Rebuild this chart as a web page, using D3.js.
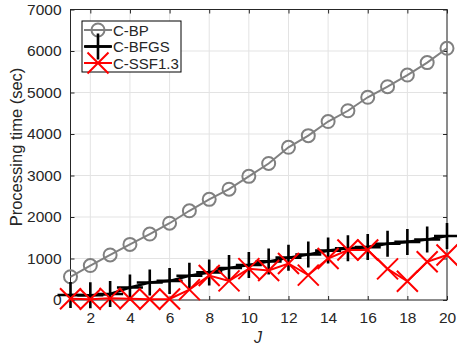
<!DOCTYPE html>
<html>
<head>
<meta charset="utf-8">
<script src="https://cdn.jsdelivr.net/npm/d3@7"></script>
<style>
  body { margin: 0; background: #fff; }
  svg text { font-family: "Liberation Sans", Arial, Helvetica, sans-serif; fill: #262626; }
</style>
</head>
<body>
<div id="chart"></div>
<script>
const WIDTH = 457;
const HEIGHT = 350;

// processing time (sec) per J
const J = d3.range(1, 21);
const bp = [560, 830, 1085, 1340, 1590, 1850, 2150, 2425, 2670, 2980,
  3290, 3680, 3960, 4300, 4560, 4885, 5140, 5420, 5720, 6065];
const bfgs = [120, 115, 145, 300, 420, 460, 585, 665, 770, 843,
  930, 1020, 1095, 1190, 1245, 1275, 1355, 1400, 1458, 1542];
const ssf = [30, 20, 40, 30, 20, 25, 250, 590, 460, 755,
  710, 880, 600, 1000, 1205, 1205, 750, 450, 920, 1085];

const xTicks = [2, 4, 6, 8, 10, 12, 14, 16, 18, 20];
const yTicks = [0, 1000, 2000, 3000, 4000, 5000, 6000, 7000];

const series = [
  { name: "C-BP", values: bp, color: "#808080", marker: "circle" },
  { name: "C-BFGS", values: bfgs, color: "#000000", marker: "plus" },
  { name: "C-SSF1.3", values: ssf, color: "#ff0000", marker: "cross" }
];

const svg = d3.select("#chart").append("svg")
  .attr("width", WIDTH)
  .attr("height", HEIGHT);

const x = d3.scaleLinear().domain([1, 20]).range([70.5, 447]);
const y = d3.scaleLinear().domain([0, 7000]).range([300, 9.5]);

// grid
const grid = svg.append("g").attr("stroke", "#e3e3e3").attr("stroke-width", 1);
grid.selectAll(".gx").data(xTicks).enter().append("line")
  .attr("x1", d => x(d)).attr("x2", d => x(d))
  .attr("y1", y(0)).attr("y2", y(7000));
grid.selectAll(".gy").data(yTicks).enter().append("line")
  .attr("x1", x(1)).attr("x2", x(20))
  .attr("y1", d => y(d)).attr("y2", d => y(d));

// axes, ticks inside like matlab
const axisStyle = g => {
  g.select(".domain").remove();
  g.selectAll(".tick line").attr("stroke", "#262626");
  g.selectAll(".tick text").style("font-size", "15.5px").attr("fill", "#262626");
};
svg.append("g").attr("transform", `translate(0,${y(0)})`)
  .call(d3.axisBottom(x).tickValues(xTicks).tickSizeInner(-4).tickSizeOuter(0).tickPadding(12).tickFormat(d3.format("d")))
  .call(axisStyle);
svg.append("g").attr("transform", `translate(0,${y(7000)})`)
  .call(d3.axisTop(x).tickValues(xTicks).tickSizeInner(-4).tickSizeOuter(0).tickFormat(""))
  .call(axisStyle);
svg.append("g").attr("transform", `translate(${x(1)},0)`)
  .call(d3.axisLeft(y).tickValues(yTicks).tickSizeInner(-4).tickSizeOuter(0).tickPadding(9).tickFormat(d3.format("d")))
  .call(axisStyle);
svg.append("g").attr("transform", `translate(${x(20)},0)`)
  .call(d3.axisRight(y).tickValues(yTicks).tickSizeInner(-4).tickSizeOuter(0).tickFormat(""))
  .call(axisStyle);

svg.append("rect")
  .attr("x", x(1)).attr("y", y(7000))
  .attr("width", x(20) - x(1)).attr("height", y(0) - y(7000))
  .attr("fill", "none").attr("stroke", "#262626").attr("stroke-width", 1);

// axis labels
svg.append("text")
  .attr("transform", `translate(22,147) rotate(-90)`)
  .attr("text-anchor", "middle")
  .style("font-size", "16.5px")
  .text("Processing time (sec)");
svg.append("text")
  .attr("x", 258).attr("y", 343)
  .attr("text-anchor", "middle")
  .style("font-size", "16px")
  .style("font-style", "italic")
  .text("J");

// markers
function drawMarker(g, type, cx, cy, color) {
  if (type === "circle") {
    g.append("circle").attr("cx", cx).attr("cy", cy).attr("r", 6.5)
      .attr("fill", "none").attr("stroke", color).attr("stroke-width", 2);
  } else if (type === "plus") {
    const s = 13;
    g.append("path")
      .attr("d", `M${cx - s},${cy}H${cx + s}M${cx},${cy - s}V${cy + s}`)
      .attr("stroke", color).attr("stroke-width", 2.6).attr("fill", "none");
  } else {
    const s = 10.5;
    g.append("path")
      .attr("d", `M${cx - s},${cy - s}L${cx + s},${cy + s}M${cx - s},${cy + s}L${cx + s},${cy - s}`)
      .attr("stroke", color).attr("stroke-width", 2).attr("fill", "none");
  }
}

const line = d3.line().x((d, i) => x(J[i])).y(d => y(d));

series.forEach(s => {
  const g = svg.append("g");
  g.append("path")
    .attr("d", line(s.values))
    .attr("fill", "none")
    .attr("stroke", s.color)
    .attr("stroke-width", s.marker === "plus" ? 2.6 : 2);
  s.values.forEach((v, i) => drawMarker(g, s.marker, x(J[i]), y(v), s.color));
});

// legend
const lg = svg.append("g");
lg.append("rect")
  .attr("x", 82).attr("y", 21).attr("width", 99).attr("height", 51)
  .attr("fill", "#fff").attr("stroke", "#000").attr("stroke-width", 1);
series.forEach((s, i) => {
  const cy = 30 + i * 16.5;
  lg.append("line")
    .attr("x1", 84).attr("x2", 112).attr("y1", cy).attr("y2", cy)
    .attr("stroke", s.color).attr("stroke-width", s.marker === "plus" ? 2.6 : 2);
  drawMarker(lg, s.marker, 98, cy, s.color);
  lg.append("text")
    .attr("x", 113).attr("y", cy + 5.5)
    .style("font-size", "15px")
    .attr("fill", "#000")
    .text(s.name);
});
</script>
</body>
</html>
